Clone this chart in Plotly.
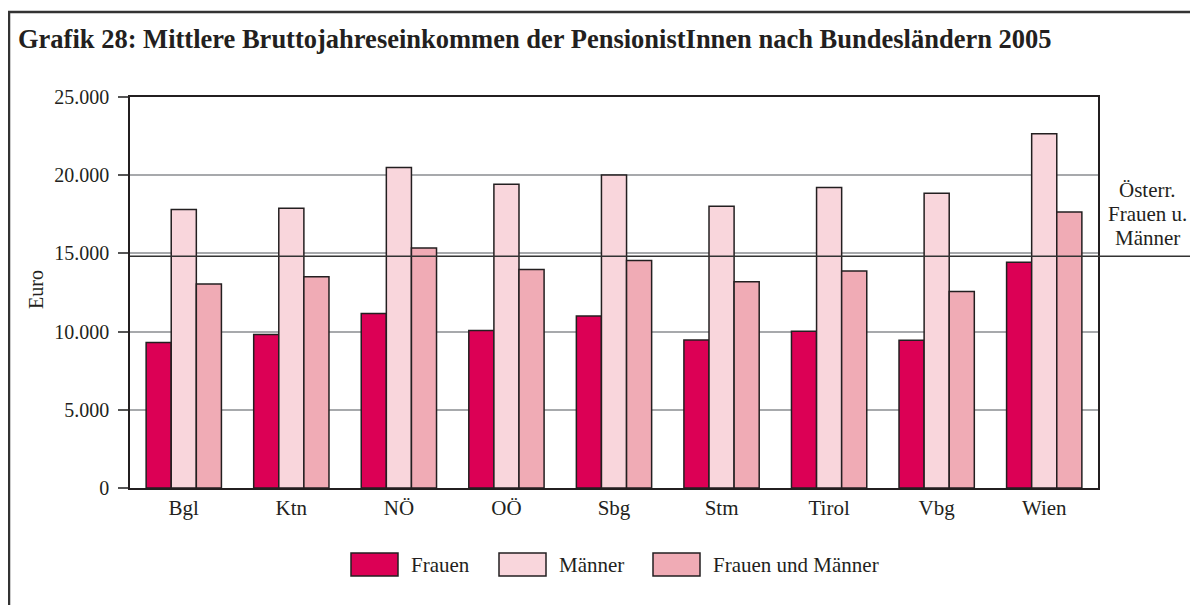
import plotly.graph_objects as go

categories = ["Bgl", "Ktn", "NÖ", "OÖ", "Sbg", "Stm", "Tirol", "Vbg", "Wien"]
frauen = [9300, 9820, 11150, 10070, 10990, 9460, 10030, 9440, 14440]
maenner = [17810, 17890, 20500, 19420, 20020, 18020, 19210, 18850, 22650]
frauen_und_maenner = [13040, 13500, 15350, 13970, 14550, 13190, 13870, 12560, 17640]
oesterreich_gesamt = 14820

series_names = ["Frauen", "Männer", "Frauen und Männer"]
series_colors = ["#DC0055", "#F9D6DC", "#F0ABB5"]
series_values = [frauen, maenner, frauen_und_maenner]

y_tickvals = [0, 5000, 10000, 15000, 20000, 25000]
y_ticktext = ["0", "5.000", "10.000", "15.000", "20.000", "25.000"]

# page offset from default body margin (8px)
OFF = 8
W, H = 1198 - OFF, 605 - OFF
L, R, T, B = 130 - OFF, 100, 97 - OFF, 605 - 488 - 0
pw, ph = W - L - R, H - T - B

def px_x(p):
    # page pixel x -> paper
    return (p - OFF - L) / pw

def px_y(p):
    # page pixel y -> paper
    return (H - B - (p - OFF)) / ph

FONT = "Liberation Serif"
DARK = "#231F20"

fig = go.Figure()
for name, vals, col in zip(series_names, series_values, series_colors):
    fig.add_trace(go.Bar(
        x=categories, y=vals, name=name,
        marker=dict(color=col, line=dict(color=DARK, width=1.5)),
        showlegend=False,
    ))

shapes = []
shapes.append(dict(type="line", xref="paper", yref="y", x0=0, x1=px_x(1191),
                   y0=oesterreich_gesamt, y1=oesterreich_gesamt,
                   line=dict(color="#333333", width=1.5), layer="above"))
shapes.append(dict(type="rect", xref="paper", yref="paper",
                   x0=px_x(9), x1=px_x(1210), y0=px_y(650), y1=px_y(12),
                   line=dict(color="#333333", width=2.5), fillcolor="rgba(0,0,0,0)", layer="above"))

annotations = []
annotations.append(dict(text="<b>Grafik 28: Mittlere Bruttojahreseinkommen der PensionistInnen nach Bundesländern 2005</b>",
                        xref="paper", yref="paper", x=px_x(16), y=px_y(39),
                        xanchor="left", yanchor="middle", showarrow=False,
                        font=dict(family=FONT, size=26.5, color=DARK)))
annotations.append(dict(text="Euro", xref="paper", yref="paper", x=px_x(36), y=px_y(290),
                        xanchor="center", yanchor="middle", textangle=-90, showarrow=False,
                        font=dict(family=FONT, size=20, color=DARK)))
for i, line in enumerate(["Österr.", "Frauen u.", "Männer"]):
    annotations.append(dict(text=line, xref="paper", yref="paper", x=px_x(1147),
                            y=px_y(190 + 24 * i), xanchor="center", yanchor="middle",
                            showarrow=False, font=dict(family=FONT, size=21, color=DARK)))

legend_boxes = [(351, 398, 409), (499, 546, 557), (653, 700, 711)]
for (bx0, bx1, tx), name, col in zip(legend_boxes, series_names, series_colors):
    shapes.append(dict(type="rect", xref="paper", yref="paper",
                       x0=px_x(bx0), x1=px_x(bx1), y0=px_y(576), y1=px_y(553),
                       fillcolor=col, line=dict(color=DARK, width=1.5)))
    annotations.append(dict(text=name, xref="paper", yref="paper", x=px_x(tx), y=px_y(565),
                            xanchor="left", yanchor="middle", showarrow=False,
                            font=dict(family=FONT, size=21, color=DARK)))

fig.update_layout(
    width=W, height=H,
    margin=dict(l=L, r=R, t=T, b=B),
    paper_bgcolor="white", plot_bgcolor="white",
    barmode="group", bargap=0.3, bargroupgap=0,
    font=dict(family=FONT, size=20, color=DARK),
    shapes=shapes, annotations=annotations,
    xaxis=dict(showline=True, linecolor=DARK, linewidth=1.5, mirror=True,
               ticks="", showgrid=False, tickfont=dict(family=FONT, size=21, color=DARK)),
    yaxis=dict(range=[0, 25000], tickvals=y_tickvals, ticktext=y_ticktext,
               showline=True, linecolor=DARK, linewidth=1.5, mirror=True,
               ticks="outside", ticklen=10, tickcolor="#555555", tickwidth=1.5,
               ticklabelstandoff=5,
               showgrid=True, gridcolor="#A7A9AC", gridwidth=1.5, zeroline=False,
               tickfont=dict(family=FONT, size=20, color=DARK)),
)

fig.write_html("out.html")
